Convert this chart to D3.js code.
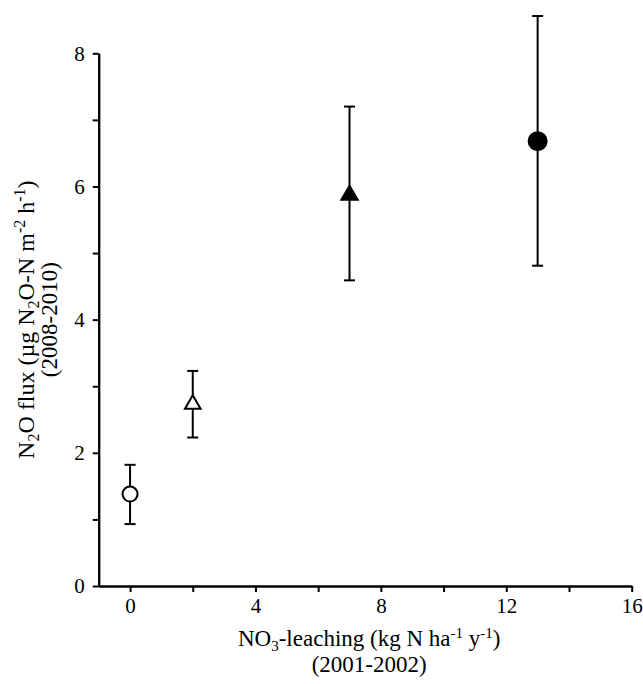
<!DOCTYPE html>
<html>
<head>
<meta charset="utf-8">
<script src="https://cdn.jsdelivr.net/npm/d3@7"></script>
<style>
  body { margin: 0; background: #fff; }
  text { font-family: "Liberation Serif", "Times New Roman", serif; fill: #000; }
</style>
</head>
<body>
<div id="chart"></div>
<script>
// Data
var xVals = [0, 2, 7, 13];
var yMean = [1.38, 2.73, 5.87, 6.68];
var yLow = [0.93, 2.23, 4.59, 4.81];
var yHigh = [1.82, 3.23, 7.20, 8.56];
var markerTypes = ["circleOpen", "triangleOpen", "triangleFilled", "circleFilled"];

var xMajor = [0, 4, 8, 12, 16];
var xMinor = [2, 6, 10, 14];
var yMajor = [0, 2, 4, 6, 8];
var yMinor = [1, 3, 5, 7];

var svgWidth = 643;
var svgHeight = 684;

var svg = d3.select("#chart")
  .append("svg")
  .attr("width", svgWidth)
  .attr("height", svgHeight);

var xScale = d3.scaleLinear().domain([-1, 16]).range([98.7, 631.7]);
var yScale = d3.scaleLinear().domain([0, 8]).range([586, 53.3]);

// Axes
function styleAxis(g) {
  g.attr("font-family", "Liberation Serif").attr("font-size", 21);
  g.selectAll("path, line").attr("stroke", "#000").attr("stroke-width", 2);
  g.selectAll("text").attr("fill", "#000");
}

svg.append("g")
  .attr("transform", "translate(0," + yScale(0) + ")")
  .call(d3.axisBottom(xScale).tickValues(xMinor).tickFormat("").tickSize(6).tickSizeOuter(0))
  .call(styleAxis);
svg.append("g")
  .attr("transform", "translate(0," + yScale(0) + ")")
  .call(d3.axisBottom(xScale).tickValues(xMajor).tickFormat(d3.format("d")).tickSize(6).tickPadding(6).tickSizeOuter(0))
  .call(styleAxis);

svg.append("g")
  .attr("transform", "translate(" + xScale(-1) + ",0)")
  .call(d3.axisLeft(yScale).tickValues(yMinor).tickFormat("").tickSize(6).tickSizeOuter(0))
  .call(styleAxis);
svg.append("g")
  .attr("transform", "translate(" + xScale(-1) + ",0)")
  .call(d3.axisLeft(yScale).tickValues(yMajor).tickFormat(d3.format("d")).tickSize(6).tickPadding(8).tickSizeOuter(0))
  .call(styleAxis);

// Points
var data = xVals.map(function(x, i) {
  return { x: x, y: yMean[i], lo: yLow[i], hi: yHigh[i], type: markerTypes[i] };
});

var capHalf = 5.5;
var bars = svg.append("g").attr("stroke", "#000").attr("stroke-width", 2);
bars.selectAll(".stem").data(data).enter().append("line")
  .attr("x1", d => xScale(d.x)).attr("x2", d => xScale(d.x))
  .attr("y1", d => yScale(d.lo)).attr("y2", d => yScale(d.hi));
bars.selectAll(".capTop").data(data).enter().append("line")
  .attr("x1", d => xScale(d.x) - capHalf).attr("x2", d => xScale(d.x) + capHalf)
  .attr("y1", d => yScale(d.hi)).attr("y2", d => yScale(d.hi));
bars.selectAll(".capBot").data(data).enter().append("line")
  .attr("x1", d => xScale(d.x) - capHalf).attr("x2", d => xScale(d.x) + capHalf)
  .attr("y1", d => yScale(d.lo)).attr("y2", d => yScale(d.lo));

var sym = {
  circleOpen: { shape: d3.symbolCircle, size: Math.PI * 7.5 * 7.5, fill: "#fff" },
  circleFilled: { shape: d3.symbolCircle, size: Math.PI * 9 * 9, fill: "#000" },
  triangleOpen: { shape: d3.symbolTriangle, size: 105, fill: "#fff" },
  triangleFilled: { shape: d3.symbolTriangle, size: 115, fill: "#000" }
};

svg.append("g").selectAll("path").data(data).enter().append("path")
  .attr("transform", d => "translate(" + xScale(d.x) + "," + yScale(d.y) + ")")
  .attr("d", d => d3.symbol().type(sym[d.type].shape).size(sym[d.type].size)())
  .attr("fill", d => sym[d.type].fill)
  .attr("stroke", "#000")
  .attr("stroke-width", 2);

// Axis titles
var xMid = (xScale.range()[0] + xScale.range()[1]) / 2 + 4;
var xt = svg.append("text").attr("x", xMid).attr("y", 646).attr("text-anchor", "middle").style("font-size", "23px");
xt.append("tspan").text("NO");
xt.append("tspan").text("3").attr("dy", 5).style("font-size", "15px");
xt.append("tspan").text("-leaching (kg N ha").attr("dy", -5);
xt.append("tspan").text("-1").attr("dy", -8).style("font-size", "15px");
xt.append("tspan").text(" y").attr("dy", 8);
xt.append("tspan").text("-1").attr("dy", -8).style("font-size", "15px");
xt.append("tspan").text(")").attr("dy", 8);
svg.append("text").attr("x", xMid).attr("y", 672).attr("text-anchor", "middle").style("font-size", "23px").text("(2001-2002)");

var yMid = (yScale.range()[0] + yScale.range()[1]) / 2;
var yt = svg.append("text").attr("transform", "translate(34," + yMid + ") rotate(-90)")
  .attr("text-anchor", "middle").style("font-size", "24px");
yt.append("tspan").text("N");
yt.append("tspan").text("2").attr("dy", 5).style("font-size", "16px");
yt.append("tspan").text("O flux (\u00b5g N").attr("dy", -5);
yt.append("tspan").text("2").attr("dy", 5).style("font-size", "16px");
yt.append("tspan").text("O-N m").attr("dy", -5);
yt.append("tspan").text("-2").attr("dy", -9).style("font-size", "16px");
yt.append("tspan").text(" h").attr("dy", 9);
yt.append("tspan").text("-1").attr("dy", -9).style("font-size", "16px");
yt.append("tspan").text(")").attr("dy", 9);
svg.append("text").attr("transform", "translate(57," + yMid + ") rotate(-90)")
  .attr("text-anchor", "middle").style("font-size", "23px").text("(2008-2010)");
</script>
</body>
</html>
